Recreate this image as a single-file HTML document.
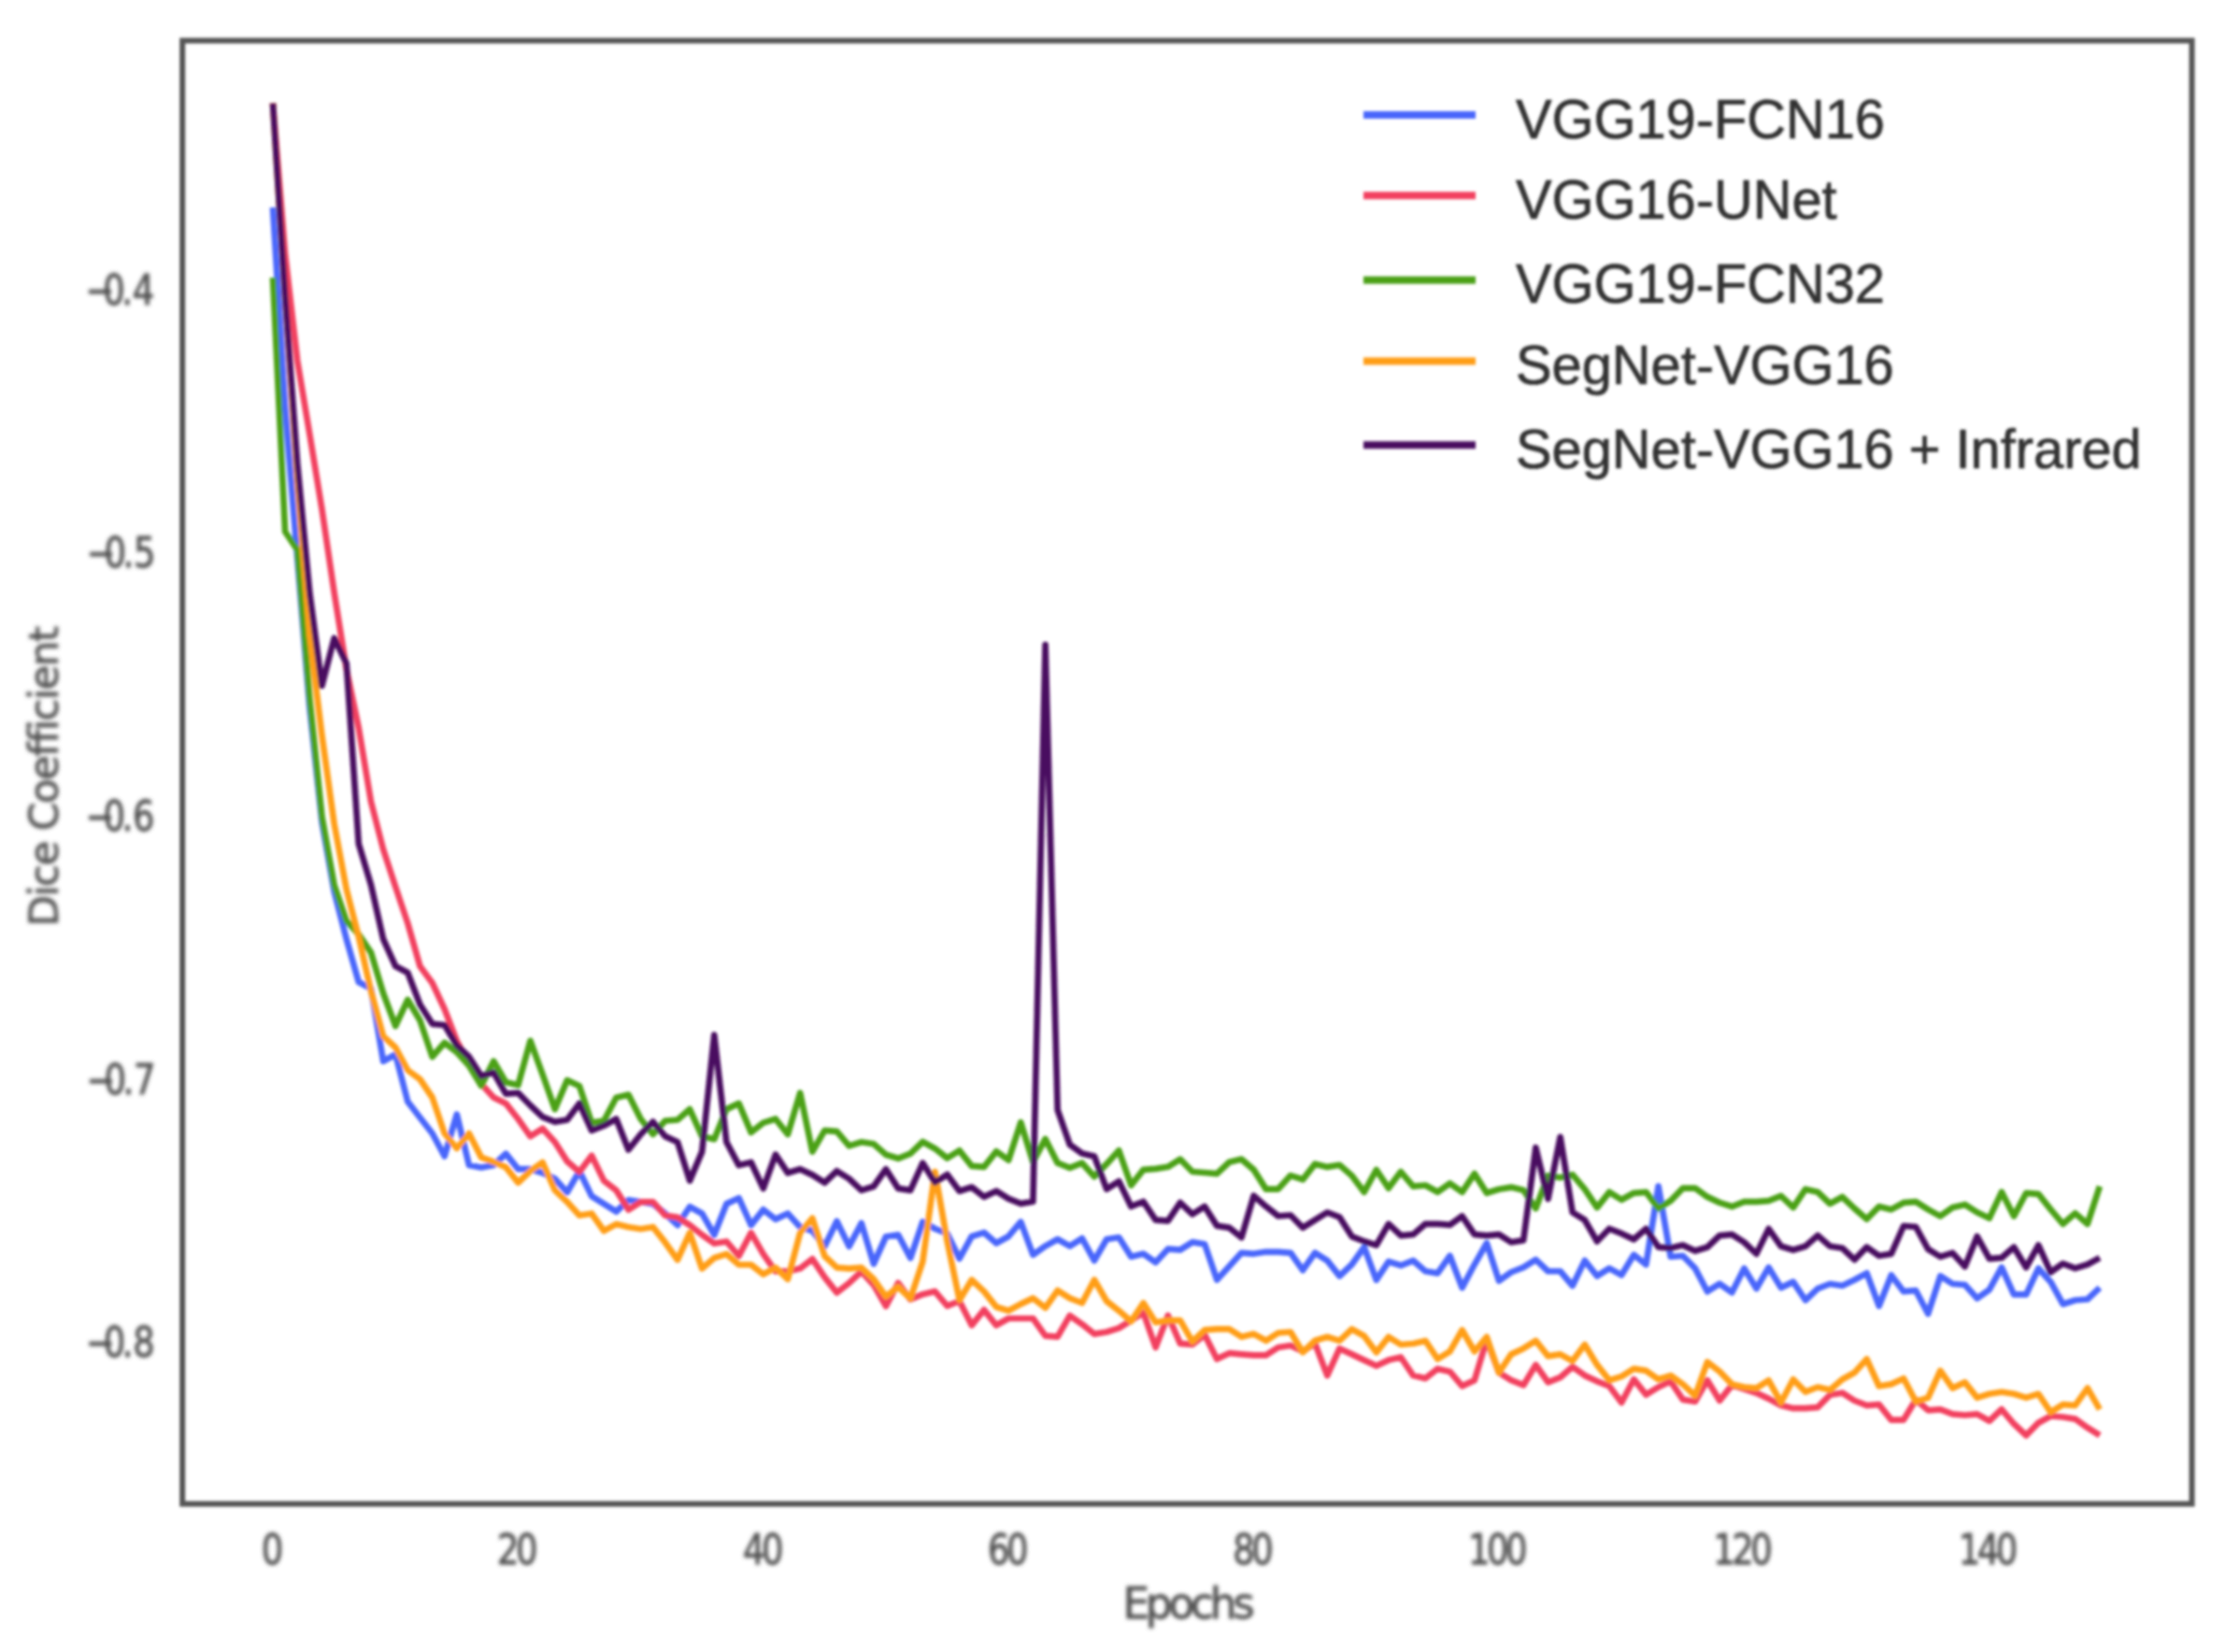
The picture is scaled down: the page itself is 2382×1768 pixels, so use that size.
<!DOCTYPE html>
<html><head><meta charset="utf-8"><title>Dice Coefficient vs Epochs</title>
<style>
html,body{margin:0;padding:0;background:#fff;}
body{width:2382px;height:1768px;overflow:hidden;}
svg{display:block;}
.tick{font-family:"DejaVu Sans","Liberation Sans",sans-serif;font-size:44.5px;fill:#505050;stroke:#505050;stroke-width:0.9px;}
.lab{font-family:"DejaVu Sans","Liberation Sans",sans-serif;font-size:46px;fill:#505050;stroke:#505050;stroke-width:0.8px;}
.leg{font-family:"Liberation Sans",Arial,sans-serif;font-size:57.8px;fill:#303030;stroke:#303030;stroke-width:0.7px;}
</style></head><body>
<svg width="2382" height="1768" viewBox="0 0 2382 1768">
<defs><filter id="b" x="-2%" y="-2%" width="104%" height="104%"><feGaussianBlur stdDeviation="1.7"/></filter><filter id="t" x="-2%" y="-2%" width="104%" height="104%"><feGaussianBlur stdDeviation="2.3"/></filter></defs>
<rect width="2382" height="1768" fill="#fff"/>
<g filter="url(#b)">

<polyline points="292.0,222.0 305.1,436.0 318.2,597.0 331.4,758.0 344.5,880.0 357.6,954.0 370.7,1005.0 383.8,1051.0 397.0,1058.0 410.1,1135.7 423.2,1128.5 436.3,1179.0 449.4,1196.0 462.6,1213.0 475.7,1237.4 488.8,1192.6 501.9,1247.0 515.0,1249.5 528.2,1247.0 541.3,1234.7 554.4,1251.2 567.5,1251.2 580.6,1255.3 593.8,1261.5 606.9,1276.0 620.0,1253.3 633.1,1280.1 646.2,1288.4 659.4,1296.7 672.5,1284.3 685.6,1286.3 698.7,1288.4 711.8,1298.7 725.0,1311.1 738.1,1291.5 751.2,1298.7 764.3,1321.5 777.4,1288.4 790.6,1282.2 803.7,1311.1 816.8,1294.6 829.9,1304.9 843.0,1298.7 856.2,1313.2 869.3,1317.3 882.4,1333.9 895.5,1307.0 908.6,1333.9 921.8,1309.1 934.9,1352.5 948.0,1323.5 961.1,1321.5 974.2,1346.3 987.4,1307.7 1000.5,1315.0 1013.6,1320.1 1026.7,1347.0 1039.8,1323.2 1053.0,1319.1 1066.1,1330.5 1079.2,1323.2 1092.3,1307.7 1105.4,1342.9 1118.6,1333.6 1131.7,1326.3 1144.8,1333.6 1157.9,1325.3 1171.0,1349.1 1184.2,1326.3 1197.3,1324.3 1210.4,1344.9 1223.5,1341.8 1236.6,1351.1 1249.8,1336.7 1262.9,1337.7 1276.0,1329.4 1289.1,1331.5 1302.2,1369.7 1315.4,1355.3 1328.5,1340.8 1341.6,1341.8 1354.7,1339.8 1367.8,1339.8 1381.0,1340.8 1394.1,1359.4 1407.2,1340.8 1420.3,1349.1 1433.4,1365.7 1446.6,1353.3 1459.7,1334.7 1472.8,1369.8 1485.9,1350.2 1499.0,1354.3 1512.2,1349.1 1525.3,1360.5 1538.4,1362.6 1551.5,1344.0 1564.6,1378.1 1577.8,1353.3 1590.9,1330.5 1604.0,1370.8 1617.1,1361.5 1630.2,1356.4 1643.4,1348.1 1656.5,1360.5 1669.6,1360.5 1682.7,1376.0 1695.8,1349.1 1709.0,1365.7 1722.1,1357.4 1735.2,1364.6 1748.3,1342.9 1761.4,1353.3 1774.6,1269.6 1787.7,1345.0 1800.8,1344.0 1813.9,1357.4 1827.0,1382.2 1840.2,1373.9 1853.3,1383.2 1866.4,1357.4 1879.5,1379.1 1892.6,1356.4 1905.8,1378.1 1918.9,1371.9 1932.0,1391.5 1945.1,1379.1 1958.2,1374.0 1971.4,1376.0 1984.5,1369.8 1997.6,1362.6 2010.7,1397.7 2023.8,1364.7 2037.0,1382.2 2050.1,1381.2 2063.2,1406.0 2076.3,1365.7 2089.4,1374.0 2102.6,1375.0 2115.7,1389.5 2128.8,1380.2 2141.9,1356.4 2155.0,1385.3 2168.2,1385.3 2181.3,1357.4 2194.4,1371.9 2207.5,1395.7 2220.6,1391.5 2233.8,1390.5 2246.9,1378.1" fill="none" stroke="#4a66fb" stroke-width="6.7" stroke-linejoin="round" stroke-linecap="butt"/>
<polyline points="292.0,110.6 305.1,272.0 318.2,386.0 331.4,465.0 344.5,545.0 357.6,634.0 370.7,716.0 383.8,779.0 397.0,858.0 410.1,909.0 423.2,949.0 436.3,988.0 449.4,1034.0 462.6,1052.0 475.7,1080.0 488.8,1114.0 501.9,1138.0 515.0,1160.0 528.2,1174.5 541.3,1180.9 554.4,1197.5 567.5,1216.1 580.6,1207.8 593.8,1222.3 606.9,1242.9 620.0,1254.3 633.1,1236.7 646.2,1263.6 659.4,1273.9 672.5,1294.6 685.6,1286.3 698.7,1286.3 711.8,1300.8 725.0,1302.9 738.1,1311.1 751.2,1321.5 764.3,1330.8 777.4,1328.7 790.6,1344.2 803.7,1319.4 816.8,1342.1 829.9,1360.7 843.0,1360.7 856.2,1357.6 869.3,1347.3 882.4,1366.9 895.5,1383.4 908.6,1373.1 921.8,1360.7 934.9,1375.2 948.0,1397.9 961.1,1373.1 974.2,1390.7 987.4,1385.2 1000.5,1382.1 1013.6,1397.6 1026.7,1392.5 1039.8,1418.3 1053.0,1401.8 1066.1,1418.3 1079.2,1411.0 1092.3,1411.0 1105.4,1411.0 1118.6,1429.6 1131.7,1430.7 1144.8,1407.9 1157.9,1417.2 1171.0,1427.6 1184.2,1425.5 1197.3,1421.4 1210.4,1413.1 1223.5,1404.9 1236.6,1442.0 1249.8,1407.9 1262.9,1437.9 1276.0,1438.9 1289.1,1428.6 1302.2,1454.4 1315.4,1448.2 1328.5,1449.3 1341.6,1450.3 1354.7,1450.3 1367.8,1442.0 1381.0,1440.0 1394.1,1446.2 1407.2,1437.9 1420.3,1472.1 1433.4,1443.2 1446.6,1449.4 1459.7,1455.6 1472.8,1461.8 1485.9,1455.6 1499.0,1452.5 1512.2,1472.1 1525.3,1475.2 1538.4,1464.9 1551.5,1467.9 1564.6,1483.4 1577.8,1477.2 1590.9,1433.9 1604.0,1469.0 1617.1,1477.2 1630.2,1482.4 1643.4,1460.7 1656.5,1479.3 1669.6,1474.1 1682.7,1462.8 1695.8,1472.1 1709.0,1478.3 1722.1,1483.4 1735.2,1501.0 1748.3,1476.2 1761.4,1492.7 1774.6,1484.5 1787.7,1478.3 1800.8,1497.9 1813.9,1500.0 1827.0,1477.2 1840.2,1498.9 1853.3,1482.4 1866.4,1486.6 1879.5,1490.7 1892.6,1496.9 1905.8,1504.1 1918.9,1507.2 1932.0,1507.2 1945.1,1506.2 1958.2,1492.8 1971.4,1490.7 1984.5,1499.0 1997.6,1504.1 2010.7,1503.1 2023.8,1519.6 2037.0,1519.6 2050.1,1497.9 2063.2,1509.3 2076.3,1508.3 2089.4,1513.4 2102.6,1514.5 2115.7,1513.4 2128.8,1520.7 2141.9,1508.3 2155.0,1523.8 2168.2,1536.2 2181.3,1522.7 2194.4,1515.5 2207.5,1516.5 2220.6,1518.6 2233.8,1527.9 2246.9,1536.2" fill="none" stroke="#f2415f" stroke-width="6.7" stroke-linejoin="round" stroke-linecap="butt"/>
<polyline points="292.0,297.0 305.1,569.0 318.2,588.6 331.4,748.0 344.5,874.0 357.6,947.0 370.7,985.6 383.8,1000.0 397.0,1019.5 410.1,1063.0 423.2,1098.0 436.3,1070.0 449.4,1092.0 462.6,1131.0 475.7,1116.0 488.8,1126.0 501.9,1140.5 515.0,1162.0 528.2,1135.7 541.3,1158.2 554.4,1161.3 567.5,1113.8 580.6,1149.9 593.8,1187.1 606.9,1156.1 620.0,1162.3 633.1,1201.6 646.2,1199.5 659.4,1174.7 672.5,1171.6 685.6,1197.5 698.7,1214.0 711.8,1199.5 725.0,1198.5 738.1,1187.1 751.2,1216.1 764.3,1219.2 777.4,1187.1 790.6,1180.9 803.7,1211.9 816.8,1201.6 829.9,1197.5 843.0,1214.0 856.2,1169.6 869.3,1232.6 882.4,1209.9 895.5,1210.9 908.6,1226.4 921.8,1222.3 934.9,1224.3 948.0,1235.7 961.1,1239.8 974.2,1234.7 987.4,1222.0 1000.5,1229.2 1013.6,1239.5 1026.7,1231.3 1039.8,1247.8 1053.0,1248.8 1066.1,1232.3 1079.2,1241.6 1092.3,1201.3 1105.4,1243.7 1118.6,1218.9 1131.7,1244.7 1144.8,1249.9 1157.9,1244.7 1171.0,1259.2 1184.2,1245.7 1197.3,1231.3 1210.4,1268.5 1223.5,1251.9 1236.6,1250.9 1249.8,1248.8 1262.9,1240.6 1276.0,1254.0 1289.1,1255.0 1302.2,1256.1 1315.4,1243.7 1328.5,1240.6 1341.6,1251.9 1354.7,1272.6 1367.8,1272.6 1381.0,1258.1 1394.1,1262.3 1407.2,1245.7 1420.3,1248.9 1433.4,1246.8 1446.6,1258.2 1459.7,1275.8 1472.8,1252.0 1485.9,1271.6 1499.0,1254.1 1512.2,1269.6 1525.3,1268.5 1538.4,1275.8 1551.5,1266.5 1564.6,1275.8 1577.8,1256.1 1590.9,1276.8 1604.0,1272.7 1617.1,1270.6 1630.2,1273.7 1643.4,1293.3 1656.5,1258.2 1669.6,1260.3 1682.7,1257.2 1695.8,1272.7 1709.0,1292.3 1722.1,1275.8 1735.2,1284.0 1748.3,1276.8 1761.4,1275.8 1774.6,1293.3 1787.7,1285.1 1800.8,1271.6 1813.9,1271.6 1827.0,1280.9 1840.2,1287.1 1853.3,1291.3 1866.4,1286.1 1879.5,1286.1 1892.6,1285.1 1905.8,1279.9 1918.9,1292.3 1932.0,1272.7 1945.1,1275.8 1958.2,1288.2 1971.4,1281.0 1984.5,1293.4 1997.6,1304.7 2010.7,1291.3 2023.8,1294.4 2037.0,1287.2 2050.1,1286.1 2063.2,1294.4 2076.3,1301.6 2089.4,1292.3 2102.6,1289.2 2115.7,1297.5 2128.8,1303.7 2141.9,1275.8 2155.0,1301.6 2168.2,1276.8 2181.3,1277.9 2194.4,1294.4 2207.5,1309.9 2220.6,1298.5 2233.8,1309.9 2246.9,1269.6" fill="none" stroke="#4ba118" stroke-width="6.7" stroke-linejoin="round" stroke-linecap="butt"/>
<polyline points="292.0,110.6 305.1,320.0 318.2,515.0 331.4,680.0 344.5,787.0 357.6,881.5 370.7,951.7 383.8,1002.5 397.0,1060.7 410.1,1109.0 423.2,1121.0 436.3,1145.4 449.4,1155.0 462.6,1174.5 475.7,1213.0 488.8,1229.0 501.9,1213.0 515.0,1238.6 528.2,1243.5 541.3,1249.1 554.4,1265.7 567.5,1253.3 580.6,1244.0 593.8,1273.9 606.9,1286.3 620.0,1300.8 633.1,1298.7 646.2,1317.3 659.4,1310.1 672.5,1313.2 685.6,1315.3 698.7,1313.2 711.8,1329.7 725.0,1348.3 738.1,1319.4 751.2,1357.6 764.3,1346.3 777.4,1342.1 790.6,1353.5 803.7,1353.5 816.8,1363.8 829.9,1356.6 843.0,1369.0 856.2,1319.4 869.3,1303.9 882.4,1344.2 895.5,1356.6 908.6,1357.6 921.8,1356.6 934.9,1369.0 948.0,1387.6 961.1,1377.2 974.2,1389.6 987.4,1350.1 1000.5,1254.0 1013.6,1328.4 1026.7,1391.4 1039.8,1369.7 1053.0,1382.1 1066.1,1398.7 1079.2,1402.8 1092.3,1395.6 1105.4,1389.4 1118.6,1399.7 1131.7,1381.1 1144.8,1389.4 1157.9,1394.5 1171.0,1369.7 1184.2,1392.5 1197.3,1402.8 1210.4,1414.1 1223.5,1394.5 1236.6,1415.2 1249.8,1413.1 1262.9,1413.1 1276.0,1435.8 1289.1,1423.4 1302.2,1422.4 1315.4,1422.4 1328.5,1430.7 1341.6,1427.6 1354.7,1434.8 1367.8,1426.5 1381.0,1425.5 1394.1,1447.2 1407.2,1434.8 1420.3,1430.8 1433.4,1434.9 1446.6,1422.5 1459.7,1429.7 1472.8,1447.3 1485.9,1430.8 1499.0,1439.0 1512.2,1438.0 1525.3,1434.9 1538.4,1454.5 1551.5,1446.3 1564.6,1423.5 1577.8,1446.3 1590.9,1430.8 1604.0,1469.0 1617.1,1449.4 1630.2,1443.2 1643.4,1434.9 1656.5,1451.4 1669.6,1449.4 1682.7,1456.6 1695.8,1439.0 1709.0,1460.7 1722.1,1477.2 1735.2,1473.1 1748.3,1464.9 1761.4,1466.9 1774.6,1476.2 1787.7,1472.1 1800.8,1481.4 1813.9,1493.8 1827.0,1457.6 1840.2,1467.9 1853.3,1481.4 1866.4,1484.5 1879.5,1485.6 1892.6,1477.3 1905.8,1501.0 1918.9,1476.3 1932.0,1489.7 1945.1,1484.5 1958.2,1487.6 1971.4,1476.3 1984.5,1469.0 1997.6,1454.6 2010.7,1483.5 2023.8,1481.4 2037.0,1475.2 2050.1,1500.0 2063.2,1495.9 2076.3,1467.0 2089.4,1485.6 2102.6,1479.4 2115.7,1495.9 2128.8,1491.8 2141.9,1489.7 2155.0,1491.8 2168.2,1495.9 2181.3,1491.8 2194.4,1511.4 2207.5,1503.1 2220.6,1504.1 2233.8,1485.6 2246.9,1508.3" fill="none" stroke="#ff9e18" stroke-width="6.7" stroke-linejoin="round" stroke-linecap="butt"/>
<polyline points="292.0,110.6 305.1,318.0 318.2,496.0 331.4,635.0 344.5,734.0 357.6,683.0 370.7,710.0 383.8,903.0 397.0,947.0 410.1,1005.0 423.2,1034.0 436.3,1041.0 449.4,1075.0 462.6,1095.8 475.7,1097.0 488.8,1118.8 501.9,1131.0 515.0,1151.5 528.2,1147.8 541.3,1170.6 554.4,1169.6 567.5,1183.0 580.6,1195.4 593.8,1200.6 606.9,1198.5 620.0,1180.9 633.1,1209.9 646.2,1204.7 659.4,1197.5 672.5,1230.5 685.6,1214.0 698.7,1200.6 711.8,1216.1 725.0,1222.3 738.1,1263.6 751.2,1232.6 764.3,1107.6 777.4,1222.3 790.6,1247.1 803.7,1244.0 816.8,1271.9 829.9,1235.7 843.0,1255.3 856.2,1251.2 869.3,1257.4 882.4,1265.7 895.5,1253.3 908.6,1261.5 921.8,1273.9 934.9,1269.8 948.0,1251.2 961.1,1271.9 974.2,1273.9 987.4,1244.7 1000.5,1265.4 1013.6,1257.1 1026.7,1274.7 1039.8,1270.5 1053.0,1280.9 1066.1,1274.7 1079.2,1282.9 1092.3,1288.1 1105.4,1286.0 1118.6,690.0 1131.7,1187.9 1144.8,1225.1 1157.9,1234.4 1171.0,1237.5 1184.2,1272.6 1197.3,1264.3 1210.4,1291.2 1223.5,1286.0 1236.6,1305.7 1249.8,1306.7 1262.9,1287.1 1276.0,1299.5 1289.1,1291.2 1302.2,1311.9 1315.4,1313.9 1328.5,1324.3 1341.6,1279.8 1354.7,1291.2 1367.8,1301.5 1381.0,1300.5 1394.1,1313.9 1407.2,1305.7 1420.3,1297.5 1433.4,1302.6 1446.6,1323.3 1459.7,1328.5 1472.8,1332.6 1485.9,1309.9 1499.0,1322.3 1512.2,1321.2 1525.3,1309.9 1538.4,1309.9 1551.5,1310.9 1564.6,1301.6 1577.8,1321.2 1590.9,1322.3 1604.0,1321.2 1617.1,1329.5 1630.2,1327.4 1643.4,1228.2 1656.5,1283.0 1669.6,1216.9 1682.7,1297.5 1695.8,1305.7 1709.0,1328.5 1722.1,1315.0 1735.2,1320.2 1748.3,1326.4 1761.4,1315.0 1774.6,1334.7 1787.7,1335.7 1800.8,1332.6 1813.9,1338.8 1827.0,1334.7 1840.2,1322.3 1853.3,1321.2 1866.4,1329.5 1879.5,1341.9 1892.6,1315.1 1905.8,1333.7 1918.9,1337.8 1932.0,1333.7 1945.1,1322.3 1958.2,1333.7 1971.4,1335.7 1984.5,1348.1 1997.6,1334.7 2010.7,1344.0 2023.8,1341.9 2037.0,1312.0 2050.1,1313.0 2063.2,1336.8 2076.3,1345.0 2089.4,1340.9 2102.6,1355.4 2115.7,1323.3 2128.8,1347.1 2141.9,1346.1 2155.0,1334.7 2168.2,1356.4 2181.3,1332.6 2194.4,1361.6 2207.5,1352.3 2220.6,1357.4 2233.8,1353.3 2246.9,1346.1" fill="none" stroke="#4a1060" stroke-width="6.7" stroke-linejoin="round" stroke-linecap="butt"/>
<rect x="195.2" y="43.5" width="2150.3" height="1566.0" fill="none" stroke="#555" stroke-width="6"/>
<line x1="1459" x2="1579" y1="123" y2="123" stroke="#4a66fb" stroke-width="8"/>
<text class="leg" transform="translate(1622,147.6) scale(1,1.04)">VGG19-FCN16</text>
<line x1="1459" x2="1579" y1="209.3" y2="209.3" stroke="#f2415f" stroke-width="8"/>
<text class="leg" transform="translate(1622,233.9) scale(1,1.04)">VGG16-UNet</text>
<line x1="1459" x2="1579" y1="299.7" y2="299.7" stroke="#4ba118" stroke-width="8"/>
<text class="leg" transform="translate(1622,324.3) scale(1,1.04)">VGG19-FCN32</text>
<line x1="1459" x2="1579" y1="386.5" y2="386.5" stroke="#ff9e18" stroke-width="8"/>
<text class="leg" transform="translate(1622,411.1) scale(1,1.04)">SegNet-VGG16</text>
<line x1="1459" x2="1579" y1="476.3" y2="476.3" stroke="#4a1060" stroke-width="8"/>
<text class="leg" transform="translate(1622,500.9) scale(1,1.04)">SegNet-VGG16 + Infrared</text>
</g><g filter="url(#t)">
<text class="tick" transform="translate(279.76,1674) scale(0.83,1)" x="0.00" y="0">0</text>
<text class="tick" transform="translate(532.03,1674) scale(0.83,1)" x="0.00 24.10" y="0">20</text>
<text class="tick" transform="translate(794.88,1674) scale(0.83,1)" x="0.00 24.10" y="0">40</text>
<text class="tick" transform="translate(1056.89,1674) scale(0.83,1)" x="0.00 24.10" y="0">60</text>
<text class="tick" transform="translate(1319.32,1674) scale(0.83,1)" x="0.00 24.10" y="0">80</text>
<text class="tick" transform="translate(1570.95,1674) scale(0.83,1)" x="0.00 24.10 48.19" y="0">100</text>
<text class="tick" transform="translate(1833.35,1674) scale(0.83,1)" x="0.00 24.10 48.19" y="0">120</text>
<text class="tick" transform="translate(2095.75,1674) scale(0.83,1)" x="0.00 24.10 48.19" y="0">140</text>
<text class="tick" transform="translate(91.27,325.7) scale(0.83,1)" x="0.00 23.01 47.11 60.96" y="0">−0.4</text>
<text class="tick" transform="translate(92.43,607.3) scale(0.83,1)" x="0.00 23.01 47.11 60.96" y="0">−0.5</text>
<text class="tick" transform="translate(91.53,888.9) scale(0.83,1)" x="0.00 23.01 47.11 60.96" y="0">−0.6</text>
<text class="tick" transform="translate(92.36,1170.5) scale(0.83,1)" x="0.00 23.01 47.11 60.96" y="0">−0.7</text>
<text class="tick" transform="translate(91.72,1452.1) scale(0.83,1)" x="0.00 23.01 47.11 60.96" y="0">−0.8</text>
<text class="lab" x="1270" y="1732" text-anchor="middle" style="letter-spacing:-4.2px;font-size:45.3px">Epochs</text>
<text class="lab" transform="translate(61.7,831.5) rotate(-90)" text-anchor="middle" style="letter-spacing:-1.5px;font-size:43.5px">Dice Coefficient</text>
</g></svg></body></html>
